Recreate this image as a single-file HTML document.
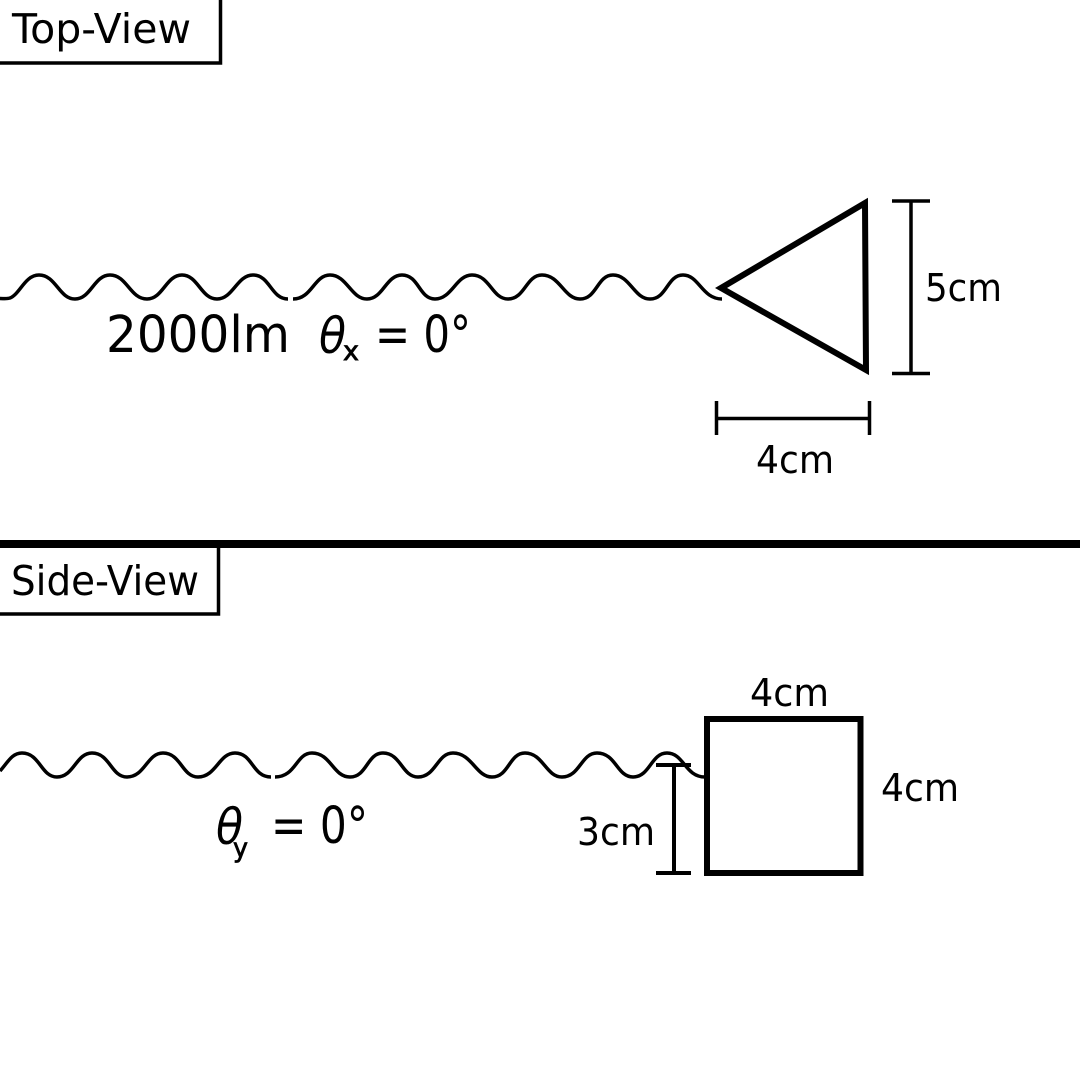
<!DOCTYPE html>
<html><head><meta charset="utf-8"><style>html,body{margin:0;padding:0;background:#fff;width:1080px;height:1080px;overflow:hidden}svg{display:block}text{font-family:"DejaVu Sans",sans-serif;fill:#000}</style></head>
<body>
<svg width="1080" height="1080" viewBox="0 0 1080 1080" xmlns="http://www.w3.org/2000/svg">
<rect width="1080" height="1080" fill="#fff"/>
<g fill="none" stroke="#000" stroke-width="3.5">
<path d="M0 298.5 C4 298.5 7 299 10 298 C20 294 25 275 39 275 C56 275 59 299 75 299 C91 299 94 275 110 275 C127 275 130 299 147 299 C163 299 166 275 182 275 C198 275 201 299 217 299 C233 299 237 275 253 275 C270 275 271 299 288 299"/>
<path d="M293 299 C312 299 314 275 330 275 C347 275 351 299 367 299 C383 299 386 275 402 275 C419 275 419 299 435 299 C452 299 456 275 472 275 C490 275 492 299 508 299 C525 299 526 275 542 275 C560 275 564 299 580 299 C597 299 597 275 613 275 C630 275 634 299 650 299 C667 299 667 275 683 275 C699 275 702 299 722 299"/>
<path d="M0 771 C8 762 12 753 22 753 C40 753 41 777 57 777 C74 777 76 753 92 753 C110 753 111 777 127 777 C145 777 147 753 163 753 C181 753 182 777 198 777 C216 777 219 753 235 753 C253 753 252 777 271 777"/>
<path d="M275 777 C296 777 296 753 312 753 C331 753 333 777 350 777 C367 777 367 753 383 753 C401 753 402 777 418 777 C436 777 437 753 453 753 C472 753 476 777 492 777 C509 777 509 753 525 753 C543 753 546 777 562 777 C580 777 581 753 597 753 C616 753 617 777 633 777 C650 777 651 753 667 753 C684 753 685 777 705 777"/>
</g>
<g fill="none" stroke="#000">
<path d="M0 63 H220.5 V0" stroke-width="3.5"/>
<path d="M0 614 H218.5 V548" stroke-width="3.5"/>
<path d="M0 544 H1080" stroke-width="8"/>
<path d="M721 288 L865 203 L866 370 Z" stroke-width="6"/>
<rect x="707" y="719" width="153.5" height="154" stroke-width="6"/>
<path d="M892 201 H930 M892 373.5 H930 M911 201 V373.5" stroke-width="3.5"/>
<path d="M716.5 401 V435 M869.5 401 V435 M716 418.5 H869" stroke-width="3.5"/>
<path d="M656 765 H691 M656 873 H691 M674 765 V873" stroke-width="4"/>
</g>
<text x="12" y="43" font-size="41" textLength="179" lengthAdjust="spacingAndGlyphs">Top-View</text>
<text x="11" y="595" font-size="41" textLength="188" lengthAdjust="spacingAndGlyphs">Side-View</text>
<text x="925" y="301" font-size="38" textLength="77" lengthAdjust="spacingAndGlyphs">5cm</text>
<text x="756" y="473" font-size="38" textLength="78" lengthAdjust="spacingAndGlyphs">4cm</text>
<text x="750" y="706" font-size="38" textLength="79" lengthAdjust="spacingAndGlyphs">4cm</text>
<text x="881" y="801" font-size="38" textLength="78" lengthAdjust="spacingAndGlyphs">4cm</text>
<text x="577" y="845" font-size="38" textLength="78" lengthAdjust="spacingAndGlyphs">3cm</text>
<text x="106" y="352" font-size="51" textLength="184" lengthAdjust="spacingAndGlyphs">2000lm</text>
<text x="319" y="353" font-size="50" font-style="italic" textLength="27" lengthAdjust="spacingAndGlyphs">θ</text>
<text x="343" y="360" font-size="27" stroke="#000" stroke-width="0.8" textLength="16" lengthAdjust="spacingAndGlyphs">x</text>
<text x="375" y="352" font-size="51" textLength="96" lengthAdjust="spacingAndGlyphs">= 0°</text>
<text x="216" y="844" font-size="50" font-style="italic" textLength="27" lengthAdjust="spacingAndGlyphs">θ</text>
<text x="233" y="857" font-size="27" stroke="#000" stroke-width="0.8" textLength="15" lengthAdjust="spacingAndGlyphs">y</text>
<text x="271" y="843" font-size="51" textLength="97" lengthAdjust="spacingAndGlyphs">= 0°</text>
</svg>
</body></html>
